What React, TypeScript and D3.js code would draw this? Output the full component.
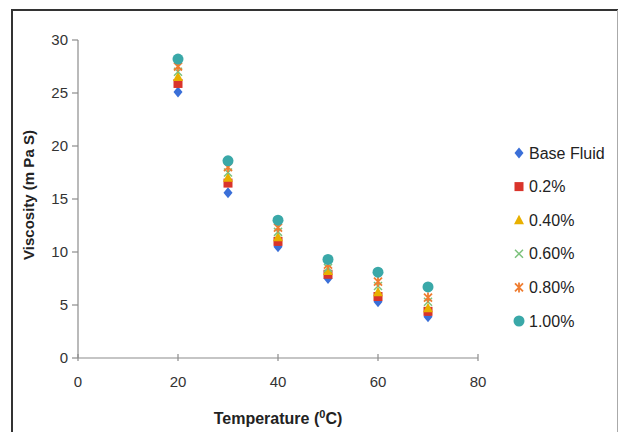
import React from "react";
import * as d3 from "d3";

const temperatures = [20, 30, 40, 50, 60, 70];
const seriesNames = ["Base Fluid", "0.2%", "0.40%", "0.60%", "0.80%", "1.00%"];
const baseFluid = [25.1, 15.6, 10.5, 7.5, 5.3, 3.9];
const conc02 = [25.9, 16.5, 11.0, 7.9, 5.8, 4.4];
const conc04 = [26.5, 17.0, 11.4, 8.2, 6.2, 4.7];
const conc06 = [27.0, 17.5, 11.9, 8.5, 6.8, 5.3];
const conc08 = [27.5, 18.0, 12.3, 8.8, 7.2, 5.7];
const conc10 = [28.2, 18.6, 13.0, 9.3, 8.1, 6.7];
const seriesValues = [baseFluid, conc02, conc04, conc06, conc08, conc10];
const xTicks = [0, 20, 40, 60, 80];
const yTicks = [0, 5, 10, 15, 20, 25, 30];

const colors = ["#3a6fd8", "#d9342b", "#e8b000", "#7cc27c", "#ef7d31", "#3aa8a8"];

function Marker({ i, x, y }: { i: number; x: number; y: number }) {
  const c = colors[i];
  switch (i) {
    case 0:
      return <path d={`M${x},${y - 5.5}L${x + 4.5},${y}L${x},${y + 5.5}L${x - 4.5},${y}Z`} fill={c} />;
    case 1:
      return <rect x={x - 4.5} y={y - 4.5} width={9} height={9} fill={c} />;
    case 2:
      return <path d={`M${x},${y - 5.5}L${x + 5},${y + 4}L${x - 5},${y + 4}Z`} fill={c} />;
    case 3:
      return (
        <path d={`M${x - 4},${y - 4}L${x + 4},${y + 4}M${x - 4},${y + 4}L${x + 4},${y - 4}`} stroke={c} strokeWidth={1.5} />
      );
    case 4:
      return (
        <path
          d={`M${x - 4},${y - 4}L${x + 4},${y + 4}M${x - 4},${y + 4}L${x + 4},${y - 4}M${x},${y - 5}L${x},${y + 5}`}
          stroke={c}
          strokeWidth={1.8}
        />
      );
    default:
      return <circle cx={x} cy={y} r={5.5} fill={c} />;
  }
}

export default function App() {
  const W = 619;
  const H = 432;
  const x = d3.scaleLinear().domain([0, 80]).range([78, 478]);
  const y = d3.scaleLinear().domain([0, 30]).range([358, 40]);
  const font = "Arial, 'Liberation Sans', sans-serif";
  const legendY = d3.scaleLinear().domain([0, 5]).range([153, 321]);

  return (
    <svg width={W} height={H} style={{ position: "absolute", left: 0, top: 0 }} fontFamily={font}>
      <rect x={0} y={0} width={W} height={H} fill="#fff" />
      {/* frame */}
      <line x1={11} y1={10} x2={618} y2={10} stroke="#333" strokeWidth={2} />
      <line x1={12} y1={10} x2={12} y2={H} stroke="#333" strokeWidth={2} />
      <line x1={617.5} y1={10} x2={617.5} y2={H} stroke="#aaa" strokeWidth={1} />

      {/* axes */}
      <line x1={x(0)} y1={y(0)} x2={x(80)} y2={y(0)} stroke="#8c8c8c" strokeWidth={1.2} />
      <line x1={x(0)} y1={y(0)} x2={x(0)} y2={y(30)} stroke="#8c8c8c" strokeWidth={1.2} />
      {yTicks.map((t) => (
        <g key={"y" + t}>
          <line x1={x(0) - 6} x2={x(0)} y1={y(t)} y2={y(t)} stroke="#8c8c8c" strokeWidth={1.2} />
          <text x={x(0) - 10} y={y(t)} dy="0.35em" textAnchor="end" fontSize={15} fill="#333">
            {t}
          </text>
        </g>
      ))}
      {xTicks.map((t) => (
        <g key={"x" + t}>
          <line x1={x(t)} x2={x(t)} y1={y(0) - 4} y2={y(0) + 3} stroke="#8c8c8c" strokeWidth={1.2} />
          <text x={x(t)} y={y(0) + 29} textAnchor="middle" fontSize={15} fill="#333">
            {t}
          </text>
        </g>
      ))}

      {/* axis titles */}
      <text
        transform={`translate(34,${y(15) - 4}) rotate(-90)`}
        textAnchor="middle"
        fontSize={15}
        fontWeight="bold"
        fill="#222"
      >
        Viscosity  (m Pa S)
      </text>
      <text x={x(40)} y={424} textAnchor="middle" fontSize={16} fill="#222" fontWeight="600">
        Temperature (<tspan dy={-6} fontSize={11}>0</tspan>
        <tspan dy={6}>C)</tspan>
      </text>

      {/* data */}
      {seriesValues.map((vals, i) => (
        <g key={"s" + i}>
          {vals.map((v, j) => (
            <Marker key={j} i={i} x={x(temperatures[j])} y={y(v)} />
          ))}
        </g>
      ))}

      {/* legend */}
      {seriesNames.map((name, i) => (
        <g key={"l" + i}>
          <Marker i={i} x={519} y={legendY(i)} />
          <text x={529} y={legendY(i)} dy="0.35em" fontSize={16} fill="#222">
            {name}
          </text>
        </g>
      ))}
    </svg>
  );
}
